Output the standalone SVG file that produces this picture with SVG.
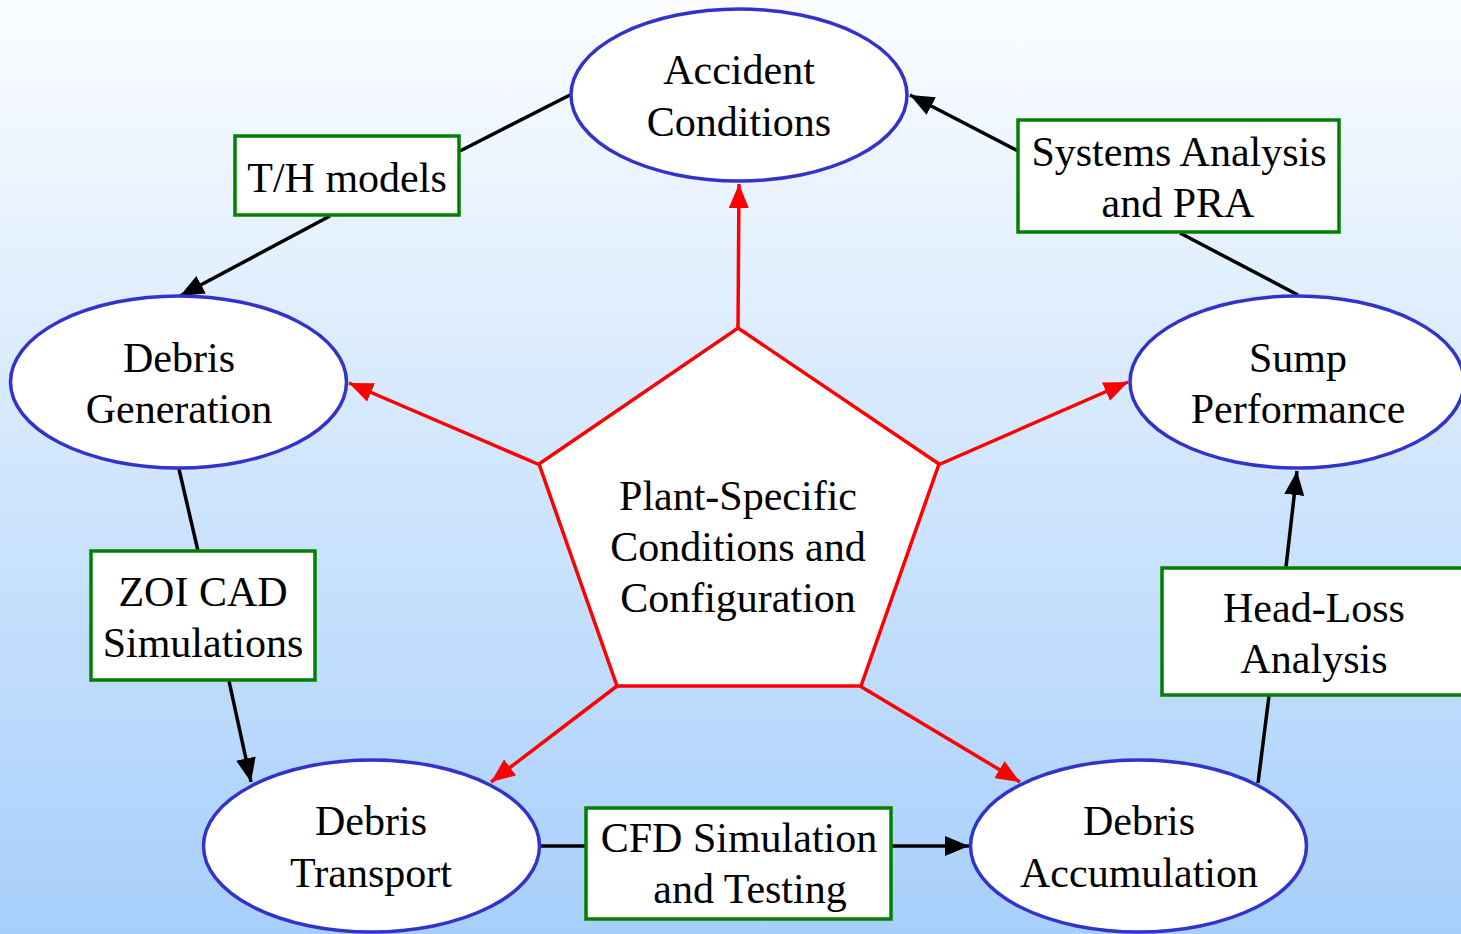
<svg xmlns="http://www.w3.org/2000/svg" width="1461" height="934" viewBox="0 0 1461 934">
<defs>
<linearGradient id="bg" x1="0" y1="0" x2="0" y2="1">
<stop offset="0" stop-color="#fbfdff"/>
<stop offset="1" stop-color="#a7cffb"/>
</linearGradient>
<marker id="ab" markerUnits="userSpaceOnUse" markerWidth="26" markerHeight="20" refX="24" refY="10" orient="auto">
<path d="M0,0 L24,10 L0,20 z" fill="#000"/>
</marker>
<marker id="ar" markerUnits="userSpaceOnUse" markerWidth="26" markerHeight="20" refX="24" refY="10" orient="auto">
<path d="M0,0 L24,10 L0,20 z" fill="#ff0000"/>
</marker>
</defs>
<style>
.el{fill:#fff;stroke:#3333cc;stroke-width:3.5}
.bx{fill:#fff;stroke:#008000;stroke-width:3.5}
.pg{fill:#fff;stroke:#ff0000;stroke-width:3.5}
.t{font-family:"Liberation Serif","Times New Roman",serif;font-size:42px;fill:#000;text-anchor:middle}
.k{stroke:#000;stroke-width:3.5;fill:none}
.r{stroke:#ff0000;stroke-width:3.5;fill:none}
</style>
<rect x="0" y="0" width="1461" height="934" fill="url(#bg)"/>
<g id="connectors">
<line class="r" x1="738" y1="328" x2="739" y2="184" marker-end="url(#ar)"/>
<line class="r" x1="540" y1="465" x2="349" y2="383" marker-end="url(#ar)"/>
<line class="r" x1="938" y1="465" x2="1128" y2="382" marker-end="url(#ar)"/>
<line class="r" x1="617" y1="686" x2="491" y2="782" marker-end="url(#ar)"/>
<line class="r" x1="860" y1="686" x2="1020" y2="782" marker-end="url(#ar)"/>
<line class="k" x1="570" y1="95" x2="460" y2="151"/>
<line class="k" x1="330" y1="216" x2="180" y2="296" marker-end="url(#ab)"/>
<line class="k" x1="1018" y1="151" x2="910" y2="95" marker-end="url(#ab)"/>
<line class="k" x1="1298" y1="295" x2="1180" y2="233"/>
<line class="k" x1="179" y1="469" x2="198" y2="551"/>
<line class="k" x1="229" y1="681" x2="251" y2="782" marker-end="url(#ab)"/>
<line class="k" x1="540" y1="846" x2="586" y2="846"/>
<line class="k" x1="891" y1="846" x2="969" y2="846" marker-end="url(#ab)"/>
<line class="k" x1="1258" y1="783" x2="1269" y2="696"/>
<line class="k" x1="1286" y1="567" x2="1297" y2="471" marker-end="url(#ab)"/>
</g>
<g id="plant">
<polygon class="pg" points="738,328 939,464 861,686 617,686 539,464"/>
<text class="t" x="738" y="510">Plant-Specific</text>
<text class="t" x="738" y="561">Conditions and</text>
<text class="t" x="738" y="612">Configuration</text>
</g>
<g id="accident">
<ellipse class="el" cx="739" cy="95" rx="168" ry="86"/>
<text class="t" x="739" y="84">Accident</text>
<text class="t" x="739" y="136">Conditions</text>
</g>
<g id="generation">
<ellipse class="el" cx="178.5" cy="382" rx="168" ry="86"/>
<text class="t" x="179" y="372">Debris</text>
<text class="t" x="179" y="423">Generation</text>
</g>
<g id="sump">
<ellipse class="el" cx="1297" cy="382" rx="167" ry="86"/>
<text class="t" x="1298" y="372">Sump</text>
<text class="t" x="1298" y="423">Performance</text>
</g>
<g id="transport">
<ellipse class="el" cx="371.5" cy="846" rx="168" ry="86"/>
<text class="t" x="371" y="835">Debris</text>
<text class="t" x="371" y="887">Transport</text>
</g>
<g id="accumulation">
<ellipse class="el" cx="1138.5" cy="846" rx="168" ry="86"/>
<text class="t" x="1139" y="835">Debris</text>
<text class="t" x="1139" y="887">Accumulation</text>
</g>
<g id="th">
<rect class="bx" x="235" y="136" width="224" height="79"/>
<text class="t" x="347" y="192">T/H models</text>
</g>
<g id="systems">
<rect class="bx" x="1018" y="120" width="321" height="112"/>
<text class="t" x="1179" y="166">Systems Analysis</text>
<text class="t" x="1178" y="217">and PRA</text>
</g>
<g id="zoi">
<rect class="bx" x="91" y="551" width="224" height="129"/>
<text class="t" x="203" y="606">ZOI CAD</text>
<text class="t" x="203" y="657">Simulations</text>
</g>
<g id="cfd">
<rect class="bx" x="586" y="808" width="305" height="111"/>
<text class="t" x="739" y="852">CFD Simulation</text>
<text class="t" x="750" y="903">and Testing</text>
</g>
<g id="headloss">
<rect class="bx" x="1162" y="568" width="310" height="127"/>
<text class="t" x="1314" y="622">Head-Loss</text>
<text class="t" x="1314" y="673">Analysis</text>
</g>
</svg>
